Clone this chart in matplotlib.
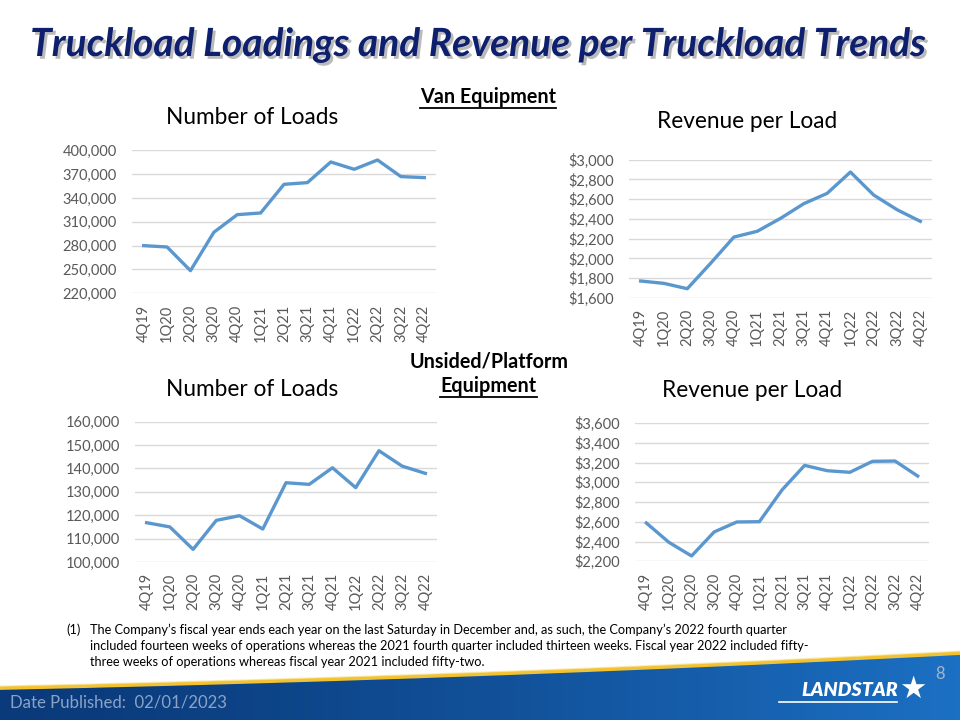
import numpy as np
import matplotlib
matplotlib.use("Agg")
import matplotlib.pyplot as plt
import matplotlib.patheffects as pe
from matplotlib.lines import Line2D
from matplotlib.patches import Polygon

plt.rcParams['font.family'] = ['Lato', 'DejaVu Sans']

quarters = ["4Q19", "1Q20", "2Q20", "3Q20", "4Q20", "1Q21", "2Q21",
            "3Q21", "4Q21", "1Q22", "2Q22", "3Q22", "4Q22"]

# van equipment
van_loads = [280000, 278300, 248500, 296800, 319000, 321100, 357200,
             359300, 385300, 376100, 387800, 366900, 365600]
van_rev = [1772, 1748, 1694, 1951, 2217, 2275, 2406,
           2555, 2659, 2875, 2642, 2494, 2376]

# unsided / platform equipment
plat_loads = [116800, 115000, 105400, 117800, 119800, 114100, 133900,
              133200, 140300, 131800, 147600, 141000, 137900]
plat_rev = [2588, 2392, 2254, 2497, 2598, 2601, 2922,
            3171, 3117, 3101, 3212, 3215, 3063]

footnote = [
    "The Company\u2019s fiscal year ends each year on the last Saturday in December and, as such, the Company\u2019s 2022 fourth quarter",
    "included fourteen weeks of operations whereas the 2021 fourth quarter included thirteen weeks. Fiscal year 2022 included fifty-",
    "three weeks of operations whereas fiscal year 2021 included fifty-two.",
]

W, H = 960, 720
fig = plt.figure(figsize=(9.6, 7.2), dpi=100)
rend = fig.canvas.get_renderer()


def fx(x):
    return x / W


def fy(y):
    return 1 - y / H


def fit(t, width_px):
    w = t.get_window_extent(rend).width
    t.set_fontsize(t.get_fontsize() * width_px / w)
    return t.get_fontsize()


def underline(t, y_px, lw=1.3):
    bb = t.get_window_extent(rend)
    fig.add_artist(Line2D([bb.x0 / W, bb.x1 / W], [fy(y_px)] * 2,
                          color="black", lw=lw))


# ---- footer banner ----
bg = fig.add_axes([0, 0, 1, 1])
bg.set_xlim(0, W)
bg.set_ylim(H, 0)
bg.axis("off")
ex = [0, 300, 700, 960]
ey = [690, 679, 669, 653]
cf = np.polyfit(ex, ey, 2)
xs = np.linspace(0, W, 300)
ys = np.polyval(cf, xs)
c0 = np.array([10, 58, 122]) / 255
c1 = np.array([28, 112, 196]) / 255
t = np.linspace(0, 1, 256)[:, None]
grad = (c0 + (c1 - c0) * t ** 1.3)[None, :, :]
im = bg.imshow(grad, extent=[0, W, H, 640], aspect="auto", zorder=1)
poly = Polygon(np.column_stack([np.r_[xs, W, 0], np.r_[ys, H, H]]),
               closed=True, transform=bg.transData)
im.set_clip_path(poly)
bg.plot(xs, ys - 1, color="#F2C232", lw=2.6, zorder=2)
bg.plot(xs, ys - 3, color="#F7E08A", lw=1.0, alpha=0.6, zorder=2)

# ---- charts ----
def chart(box, vals, lo, hi, step, money):
    l, tp, r, b = box
    ax = fig.add_axes([fx(l), fy(b), (r - l) / W, (b - tp) / H])
    ax.set_facecolor("none")
    x = np.arange(len(quarters))
    ax.plot(x, vals, color="#5B97CF", lw=2.4, clip_on=False, zorder=3)
    ax.set_xlim(-0.5, len(quarters) - 0.5)
    ax.set_ylim(lo, hi)
    ticks = np.arange(lo, hi + step / 2, step)
    ax.set_yticks(ticks)
    if money:
        ax.set_yticklabels(["${:,.0f}".format(v) for v in ticks])
    else:
        ax.set_yticklabels(["{:,.0f}".format(v) for v in ticks])
    ax.set_xticks(x)
    ax.set_xticklabels(quarters, rotation=90)
    ax.grid(axis="y", color="#D9D9D9", lw=1.0)
    ax.set_axisbelow(True)
    for s in ax.spines.values():
        s.set_visible(False)
    ax.tick_params(axis="y", length=0, pad=11, labelsize=10.5, labelcolor="#595959")
    ax.tick_params(axis="x", length=0, pad=8, labelsize=10.5, labelcolor="#595959")
    return ax


chart((132, 150.3, 436, 293.3), van_loads, 220000, 400000, 30000, False)
chart((629, 159.7, 932, 298), van_rev, 1600, 3000, 200, True)
chart((135, 421.7, 437, 562), plat_loads, 100000, 160000, 10000, False)
chart((635, 423, 929, 561.3), plat_rev, 2200, 3600, 200, True)

# chart titles
tt = fig.text(fx(252), fy(118), "Number of Loads", ha="center", va="center",
              fontsize=15, color="black")
ts = fit(tt, 172)
fig.text(fx(747), fy(122), "Revenue per Load", ha="center", va="center",
         fontsize=ts, color="black")
fig.text(fx(252), fy(389), "Number of Loads", ha="center", va="center",
         fontsize=ts, color="black")
fig.text(fx(752), fy(391), "Revenue per Load", ha="center", va="center",
         fontsize=ts, color="black")

# section labels
v = fig.text(fx(488), fy(97), "Van Equipment", ha="center", va="center",
             fontsize=12, fontweight="bold")
vs = fit(v, 135)
underline(v, 107.5)
fig.text(fx(489.5), fy(361.5), "Unsided/Platform", ha="center", va="center",
         fontsize=vs, fontweight="bold")
e = fig.text(fx(488.5), fy(386.5), "Equipment", ha="center", va="center",
             fontsize=vs, fontweight="bold")
underline(e, 396.5)

# main title with shadow
title = "Truckload Loadings and Revenue per Truckload Trends"
mt = fig.text(fx(477.5), fy(44.5), title, ha="center", va="center", fontsize=28,
              fontweight="bold", style="italic", color="#0E1F6E")
fit(mt, 895)
mt.set_path_effects([pe.withSimplePatchShadow(offset=(2, -2), shadow_rgbFace="#8C8C8C",
                                              alpha=0.6)])

# footnote
f2 = fig.text(fx(90), fy(646), footnote[1], ha="left", va="center", fontsize=10)
fsz = fit(f2, 725)
fig.text(fx(66), fy(629.5), "(1)", ha="left", va="center", fontsize=fsz)
fig.text(fx(90), fy(629.5), footnote[0], ha="left", va="center", fontsize=fsz)
fig.text(fx(90), fy(662), footnote[2], ha="left", va="center", fontsize=fsz)

# footer texts
d = fig.text(fx(10), fy(702), "Date Published:  02/01/2023", ha="left", va="center",
             fontsize=13, color="#8AA3C6")
fit(d, 217)
fig.text(fx(940), fy(674), "8", ha="center", va="center", fontsize=12,
         color="#A8B4C4")
lg = fig.text(fx(850), fy(690), "LANDSTAR", ha="center", va="center", fontsize=13,
              fontweight="heavy", style="italic", color="white")
fit(lg, 96)
fig.text(fx(913), fy(689), "\u2605", ha="center", va="center", fontsize=22,
         color="white", family=["DejaVu Sans"])
fig.add_artist(Line2D([fx(779), fx(897)], [fy(702)] * 2, color="white", lw=1.2))

fig.savefig("out.png", dpi=100)
